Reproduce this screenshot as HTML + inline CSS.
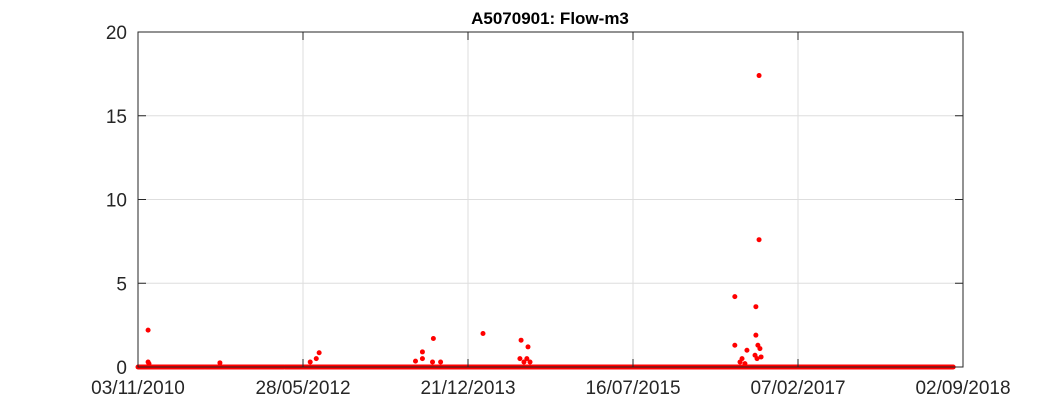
<!DOCTYPE html>
<html><head><meta charset="utf-8"><style>
body{margin:0;background:#fff;font-family:"Liberation Sans",sans-serif}
svg text{font-family:"Liberation Sans",sans-serif}
</style></head><body>
<svg id="chart" width="1063" height="413" xmlns="http://www.w3.org/2000/svg">
<rect x="0" y="0" width="1063" height="413" fill="#fff"/>
<text x="550" y="24" text-anchor="middle" font-size="17" font-weight="bold" fill="#000">A5070901: Flow-m3</text>
<rect x="138" y="32" width="825" height="335" fill="#fff" stroke="none"/>
<g id="grid"></g>
<g id="marks"></g>
<rect x="138" y="32" width="825" height="335" fill="none" stroke="#262626" stroke-width="1"/>
<g id="axes"></g>
</svg>
<script>
const xTickLabels=["03/11/2010","28/05/2012","21/12/2013","16/07/2015","07/02/2017","02/09/2018"];
const yTicks=[0,5,10,15,20];
const totalDays=2860;
// spike days (from start) and values
const spikeDays=[35,35,38,284,597,618,628,962,986,986,1024,1021,1049,1196,1328,1352,1324,1348,1338,1359,2069,2142,2142,2069,2111,2149,2156,2153,2153,2094,2087,2139,2146,2160,2104];
const spikeVals=[2.2,0.3,0.2,0.25,0.3,0.5,0.85,0.35,0.9,0.5,1.7,0.3,0.3,2.0,1.6,1.2,0.5,0.5,0.3,0.3,4.2,3.6,1.9,1.3,1.0,1.3,1.1,17.4,7.6,0.5,0.3,0.7,0.5,0.6,0.2];
// baseline (zero-flow) record segments [startDay,endDay]
const baseStarts=[0,234,510,1000,1060];
const baseEnds=[230,505,1000,1060,2826];
const ns="http://www.w3.org/2000/svg";
const X0=138,X1=963,Y0=367,Y1=32;
const xs=d=>X0+d/totalDays*(X1-X0);
const ys=v=>Y0-v/20*(Y0-Y1);
const grid=document.getElementById('grid'),axes=document.getElementById('axes'),marks=document.getElementById('marks');
function mk(t,a,p){const e=document.createElementNS(ns,t);for(const k in a)e.setAttribute(k,a[k]);p.appendChild(e);return e;}
xTickLabels.forEach((l,i)=>{const x=X0+i*(X1-X0)/(xTickLabels.length-1);
 const g=mk('line',{x1:x,x2:x,y1:Y1,y2:Y0,stroke:'#dedede'},grid);
 
 
 mk('line',{x1:x,x2:x,y1:Y0,y2:Y0-8,stroke:'#262626'},axes);
 mk('line',{x1:x,x2:x,y1:Y1,y2:Y1+8,stroke:'#262626'},axes);
 const t=mk('text',{x:x,y:394,'text-anchor':'middle','font-size':'19',fill:'#262626'},axes);t.textContent=l;
 
 });
yTicks.forEach(v=>{const y=ys(v);
 const g=mk('line',{x1:X0,x2:X1,y1:y,y2:y,stroke:'#dedede'},grid);
 
 
 mk('line',{x1:X0,x2:X0+8,y1:y,y2:y,stroke:'#262626'},axes);
 mk('line',{x1:X1,x2:X1-8,y1:y,y2:y,stroke:'#262626'},axes);
 const t=mk('text',{x:127,y:y+7,'text-anchor':'end','font-size':'19',fill:'#262626'},axes);t.textContent=v;
 
 });
baseStarts.forEach((s,i)=>{const l=mk('line',{x1:xs(s),x2:xs(baseEnds[i]),y1:ys(0),y2:ys(0),stroke:'#f00','stroke-width':5,'stroke-linecap':'round'},marks);
 
 });
spikeDays.forEach((d,i)=>{const c=mk('circle',{cx:xs(d),cy:ys(spikeVals[i]),r:2.5,fill:'#f00'},marks);
 
 });
</script>
</body></html>
